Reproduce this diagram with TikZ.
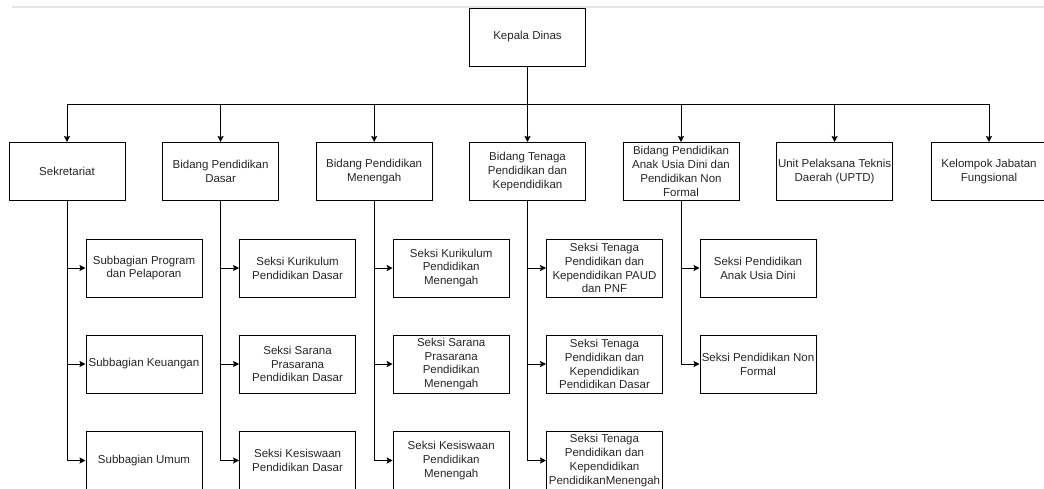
\documentclass[tikz,border=0pt]{standalone}
\usepackage{fontspec}
\setmainfont{Liberation Sans}
\usetikzlibrary{arrows.meta}

\begin{document}
\begin{tikzpicture}[x=1pt,y=-1pt,
	box/.style={draw,line width=1pt,minimum width=116pt,minimum height=58pt,inner sep=0pt,align=center,text=black!85,font=\fontsize{11.5}{13.8}\selectfont},
	link/.style={line width=1pt,-{Stealth[length=6pt,width=6pt,inset=1pt]}}]
	\useasboundingbox (0,0) rectangle (1044,488);
	\clip (0,0) rectangle (1044,488);
	\draw[gray!20,line width=2pt] (12,6.5) -- (1044,6.5);
	\node[box] (kadis) at (527.5,37) {Kepala Dinas};
	%bidang
	\node[box] (sekre) at (67,171.5) {Sekretariat};
	\node[box] (dasar) at (220.6,171.5) {Bidang Pendidikan\\Dasar};
	\node[box] (menengah) at (374.2,171.5) {Bidang Pendidikan\\Menengah};
	\node[box] (tenaga) at (527.5,171.5) {Bidang Tenaga\\Pendidikan dan\\Kependidikan};
	\node[box] (paud) at (681,171.5) {Bidang Pendidikan\\Anak Usia Dini dan\\Pendidikan Non\\Formal};
	\node[box] (uptd) at (834.6,171.5) {Unit Pelaksana Teknis\\Daerah (UPTD)};
	\node[box] (fungsional) at (989,171.5) {Kelompok Jabatan\\Fungsional};
	\foreach \n in {sekre,dasar,menengah,tenaga,paud,uptd,fungsional}
		\draw[link] (kadis.south) -- ++(0,38) -| (\n.north);
	%sekretariat
	\node[box] (sekre1) at (144,268) {Subbagian Program\\dan Pelaporan};
	\node[box] (sekre2) at (144,364) {Subbagian Keuangan};
	\node[box] (sekre3) at (144,460.5) {Subbagian Umum};
	%dasar
	\node[box] (dasar1) at (297.6,268) {Seksi Kurikulum\\Pendidikan Dasar};
	\node[box] (dasar2) at (297.6,364) {Seksi Sarana\\Prasarana\\Pendidikan Dasar};
	\node[box] (dasar3) at (297.6,460.5) {Seksi Kesiswaan\\Pendidikan Dasar};
	%menengah
	\node[box] (menengah1) at (451.2,268) {Seksi Kurikulum\\Pendidikan\\Menengah};
	\node[box] (menengah2) at (451.2,364) {Seksi Sarana\\Prasarana\\Pendidikan\\Menengah};
	\node[box] (menengah3) at (451.2,460.5) {Seksi Kesiswaan\\Pendidikan\\Menengah};
	%tenaga
	\node[box] (tenaga1) at (604.5,268) {Seksi Tenaga\\Pendidikan dan\\Kependidikan PAUD\\dan PNF};
	\node[box] (tenaga2) at (604.5,364) {Seksi Tenaga\\Pendidikan dan\\Kependidikan\\Pendidikan Dasar};
	\node[box] (tenaga3) at (604.5,460.5) {Seksi Tenaga\\Pendidikan dan\\Kependidikan\\PendidikanMenengah};
	%paud
	\node[box] (paud1) at (758,268) {Seksi Pendidikan\\Anak Usia Dini};
	\node[box] (paud2) at (758,364) {Seksi Pendidikan Non\\Formal};
	\foreach \p/\c in {sekre/sekre1,sekre/sekre2,sekre/sekre3,dasar/dasar1,dasar/dasar2,dasar/dasar3,
		menengah/menengah1,menengah/menengah2,menengah/menengah3,tenaga/tenaga1,tenaga/tenaga2,tenaga/tenaga3,
		paud/paud1,paud/paud2}
		\draw[link] (\p.south) |- (\c.west);
\end{tikzpicture}
\end{document}
